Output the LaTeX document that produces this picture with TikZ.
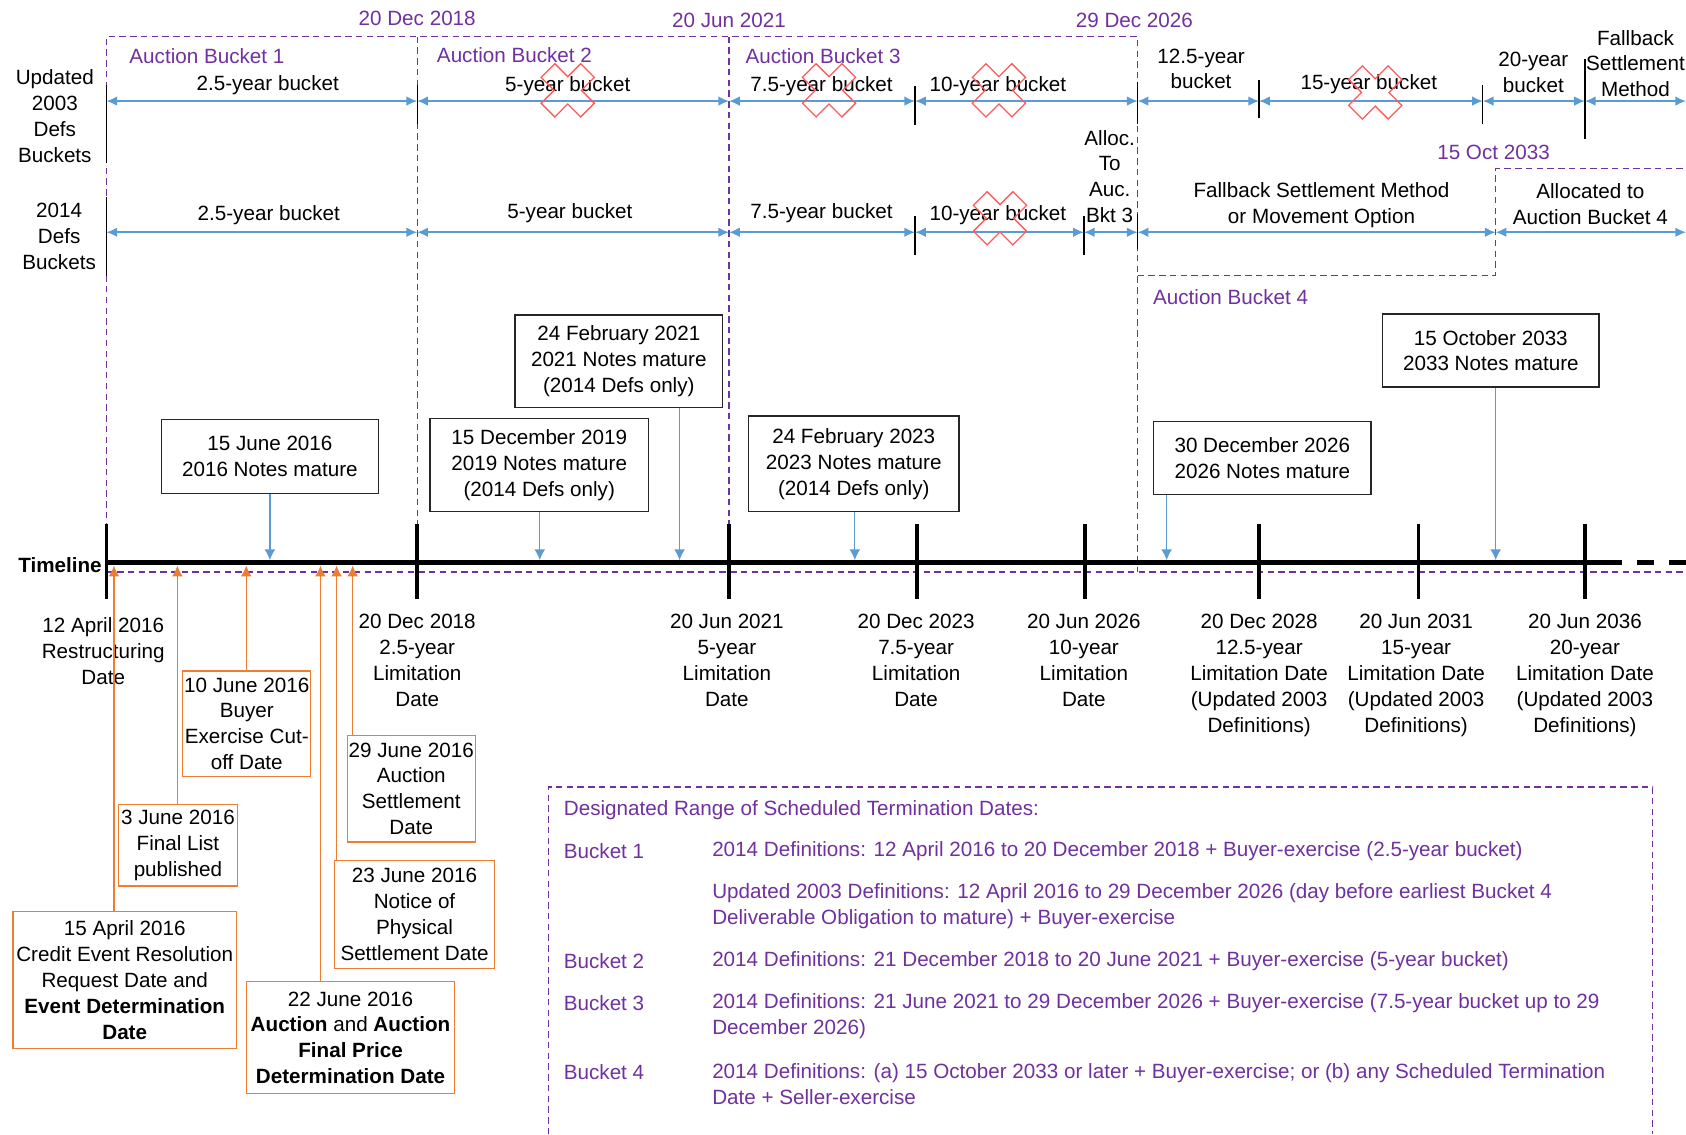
\documentclass[tikz,border=0pt]{standalone}
\usepackage{fontspec}
\setmainfont{Liberation Sans}
\usetikzlibrary{arrows.meta}
\definecolor{bktpurple}{RGB}{112,48,160}
\definecolor{notesblue}{RGB}{91,155,213}
\definecolor{evtorange}{RGB}{237,125,49}
\definecolor{crossred}{RGB}{255,90,90}
\tikzset{
  pics/nogo/.style={code={
    \draw[crossred, line width=0.6pt, rotate=45] (9,26) -- (9,9) -- (26,9) -- (26,-9) -- (9,-9) -- (9,-26) -- (-9,-26) -- (-9,-9) -- (-26,-9) -- (-26,9) -- (-9,9) -- (-9,26) -- cycle;}},
}

\begin{document}
\begin{tikzpicture}[x=0.5pt, y=-0.5pt, font=\fontsize{9.6}{12}\selectfont,
  txt/.style={align=center, inner sep=0pt},
  bktline/.style={draw=bktpurple, line width=0.6pt, dash pattern=on 3pt off 2pt},
  bkttext/.style={text=bktpurple, inner sep=0pt},
  bktspan/.style={draw=notesblue, line width=0.8pt, {Latex[length=5pt,width=4.5pt]}-{Latex[length=5pt,width=4.5pt]}},
  bar/.style={draw=black, line width=0.6pt},
  datetick/.style={draw=black, line width=1.6pt},
  notebox/.style={draw=black!85, line width=0.6pt, align=center, inner sep=0pt},
  notearrow/.style={draw=notesblue, line width=0.6pt, -{Latex[length=5pt,width=5pt]}},
  evtbox/.style={draw=evtorange, line width=0.6pt, align=center, inner sep=0pt},
  evtarrow/.style={draw=evtorange, line width=0.6pt, -{Latex[length=5pt,width=5pt]}}]
\useasboundingbox (0,0) rectangle (1568,1055);

% auction buckets
\draw[bktline] (99,532) |- (1058,34) -- (1058,532);
\draw[bktline] (388,34) -- (388,532);
\draw[bktline] (678,34) -- (678,532);
\draw[bktline] (1058,256) -| (1391,157) -- (1568,157);
\draw[bktline] (99,532) -- (1568,532);
\draw[bktline] (510,1055) |- (1537,732) -- (1537,1055);

\node[bkttext] (d18) at (388,17) {20 Dec 2018};
\node[bkttext] (d21) at (678,19) {20 Jun 2021};
\node[bkttext] (d26) at (1055,19) {29 Dec 2026};
\node[bkttext] (d33) at (1389,142) {15 Oct 2033};
\node[bkttext, anchor=west] (ab1) at (120,52) {Auction Bucket 1};
\node[bkttext, anchor=west] (ab2) at (406,51) {Auction Bucket 2};
\node[bkttext, anchor=west] (ab3) at (693,52) {Auction Bucket 3};
\node[bkttext, anchor=west] (ab4) at (1072,276) {Auction Bucket 4};

% bucket rows
\node[txt] (upd) at (51,108) {Updated\\2003\\Defs\\Buckets};
\node[txt] (new) at (55,220) {2014\\Defs\\Buckets};

\foreach \x/\a/\b in {99/79/152, 388/79/115, 851/80/116, 1058/76/115, 1171/74/110, 1379/79/115, 1474/55/129}
  \draw[bar] (\x,\a) -- (\x,\b);
\foreach \x/\a/\b in {99/183/257, 851/201/237, 1008/201/237, 1058/199/232}
  \draw[bar] (\x,\a) -- (\x,\b);

\foreach \n/\x in {a/99, b/388, c/678, d/851, e/1058, f/1171, g/1379, h/1474, i/1568}
  \coordinate (u\n) at (\x,94);
\foreach \n/\x in {a/99, b/388, c/678, d/851, e/1008, f/1058, g/1391, h/1568}
  \coordinate (w\n) at (\x,216);

\draw[bktspan] (ua) -- (ub);
\draw[bktspan] (ub) -- (uc);
\draw[bktspan] (uc) -- (ud);
\draw[bktspan] (ud) -- (ue);
\draw[bktspan] (ue) -- (uf);
\draw[bktspan] (uf) -- (ug);
\draw[bktspan] (ug) -- (uh);
\draw[bktspan] (uh) -- (ui);
\draw[bktspan] (wa) -- (wb);
\draw[bktspan] (wb) -- (wc);
\draw[bktspan] (wc) -- (wd);
\draw[bktspan] (wd) -- (we);
\draw[bktspan] (we) -- (wf);
\draw[bktspan] (wf) -- (wg);
\draw[bktspan] (wg) -- (wh);

\node[txt] (u25) at (249,79) {2.5-year bucket};
\node[txt] (u5) at (528,80) {5-year bucket};
\node[txt] (u75) at (764,80) {7.5-year bucket};
\node[txt] (u10) at (928,80) {10-year bucket};
\node[txt] (u125) at (1117,64) {12.5-year\\bucket};
\node[txt] (u15) at (1273,78) {15-year bucket};
\node[txt] (u20) at (1426,67) {20-year\\bucket};
\node[txt] (ufb) at (1521,59) {Fallback\\Settlement\\Method};
\node[txt] (w25) at (250,200) {2.5-year bucket};
\node[txt] (w5) at (530,198) {5-year bucket};
\node[txt] (w75) at (764,198) {7.5-year bucket};
\node[txt] (w10) at (928,200) {10-year bucket};
\node[txt] (w3) at (1032,164) {Alloc.\\To\\Auc.\\Bkt 3};
\node[txt] (wfb) at (1229,191) {Fallback Settlement Method\\or Movement Option};
\node[txt] (w4) at (1479,190) {Allocated to\\Auction Bucket 4};

\foreach \x/\y in {528/84, 771/84, 929/84, 1279/86, 930/203}
  \pic at (\x,\y) {nogo};

% timeline
\foreach \n/\x in {t16/99, t18/388, t21/678, t23/853, t26/1009, t28/1171, t31/1319, t36/1474} {
  \coordinate (\n) at (\x,523);
  \draw[datetick] (\x,487) -- (\x,557);
}
\draw[line width=2pt] (t16) -- (1492,523) coordinate (tlend);
\draw[line width=2pt, dash pattern=on 8pt off 7pt] (tlend) -- (1568,523);
\node[font=\fontsize{9.6}{12}\selectfont\bfseries, anchor=east, inner sep=0pt] (tl) at (95,526) {Timeline};

\node[txt, anchor=north] (l16) at (96,574) {12 April 2016\\Restructuring\\Date};
\node[txt, anchor=north] (l18) at (388,571) {20 Dec 2018\\2.5-year\\Limitation\\Date};
\node[txt, anchor=north] (l21) at (676,571) {20 Jun 2021\\5-year\\Limitation\\Date};
\node[txt, anchor=north] (l23) at (852,571) {20 Dec 2023\\7.5-year\\Limitation\\Date};
\node[txt, anchor=north] (l26) at (1008,571) {20 Jun 2026\\10-year\\Limitation\\Date};
\node[txt, anchor=north] (l28) at (1171,571) {20 Dec 2028\\12.5-year\\Limitation Date\\(Updated 2003\\Definitions)};
\node[txt, anchor=north] (l31) at (1317,571) {20 Jun 2031\\15-year\\Limitation Date\\(Updated 2003\\Definitions)};
\node[txt, anchor=north] (l36) at (1474,571) {20 Jun 2036\\20-year\\Limitation Date\\(Updated 2003\\Definitions)};

% notes maturing
\node[notebox, minimum width=101pt, minimum height=34.5pt] (n16) at (251,424.5) {15 June 2016\\2016 Notes mature};
\node[notebox, minimum width=96.5pt, minimum height=43pt] (n21) at (575.5,336) {24 February 2021\\2021 Notes mature\\(2014 Defs only)};
\node[notebox, minimum width=101.5pt, minimum height=43.5pt] (n19) at (501.5,432.5) {15 December 2019\\2019 Notes mature\\(2014 Defs only)};
\node[notebox, minimum width=98pt, minimum height=44.5pt] (n23) at (794,431.5) {24 February 2023\\2023 Notes mature\\(2014 Defs only)};
\node[notebox, minimum width=101pt, minimum height=34pt] (n26) at (1174,426) {30 December 2026\\2026 Notes mature};
\node[notebox, minimum width=100.5pt, minimum height=34pt] (n33) at (1386.5,326) {15 October 2033\\2033 Notes mature};

\foreach \n/\x in {m16/251, m19/502, m21/632, m23/795, m26/1085, m33/1391}
  \coordinate (\n) at (\x,521);
\draw[notearrow] (m16 |- n16.south) -- (m16);
\draw[notearrow] (m19 |- n19.south) -- (m19);
\draw[notearrow] (m21 |- n21.south) -- (m21);
\draw[notearrow] (m23 |- n23.south) -- (m23);
\draw[notearrow] (m26 |- n26.south) -- (m26);
\draw[notearrow] (m33 |- n33.south) -- (m33);

% auction events
\node[evtbox, minimum width=59.5pt, minimum height=49pt] (e10) at (229.5,673) {10 June 2016\\Buyer\\Exercise Cut-\\off Date};
\node[evtbox, minimum width=59.5pt, minimum height=49.5pt] (e29) at (382.5,733.5) {29 June 2016\\Auction\\Settlement\\Date};
\node[evtbox, minimum width=55.5pt, minimum height=38pt] (e3) at (165.5,786) {3 June 2016\\Final List\\published};
\node[evtbox, minimum width=74.5pt, minimum height=50.5pt] (e23) at (385.5,850.5) {23 June 2016\\Notice of\\Physical\\Settlement Date};
\node[evtbox, minimum width=104pt, minimum height=63.5pt] (e15) at (116,911.5) {15 April 2016\\Credit Event Resolution\\Request Date and\\\textbf{Event Determination}\\\textbf{Date}};
\node[evtbox, minimum width=97pt, minimum height=52pt] (e22) at (326,965) {22 June 2016\\\textbf{Auction} and \textbf{Auction}\\\textbf{Final Price}\\\textbf{Determination Date}};

\foreach \n/\x in {a15/106, a3/165, a10/229, a22/298, a23/313, a29/328}
  \coordinate (\n) at (\x,526);
\draw[evtarrow] (a15 |- e15.north) -- (a15);
\draw[evtarrow] (a3 |- e3.north) -- (a3);
\draw[evtarrow] (a10 |- e10.north) -- (a10);
\draw[evtarrow] (a22 |- e22.north) -- (a22);
\draw[evtarrow] (a23 |- e23.north) -- (a23);
\draw[evtarrow] (a29 |- e29.north) -- (a29);

% legend
\node[bkttext, anchor=west] (lgtitle) at (524,753) {Designated Range of Scheduled Termination Dates:};
\node[bkttext, anchor=west] (lgb1) at (524,792) {Bucket 1};
\node[bkttext, anchor=west] (lgb1a) at (662,792) {2014 Definitions: 12 April 2016 to 20 December 2018 + Buyer-exercise (2.5-year bucket)};
\node[bkttext, anchor=west, align=left] (lgb1b) at (662,843) {Updated 2003 Definitions: 12 April 2016 to 29 December 2026 (day before earliest Bucket 4\\Deliverable Obligation to mature) + Buyer-exercise};
\node[bkttext, anchor=west] (lgb2) at (524,894) {Bucket 2};
\node[bkttext, anchor=west] (lgb2a) at (662,894) {2014 Definitions: 21 December 2018 to 20 June 2021 + Buyer-exercise (5-year bucket)};
\node[bkttext, anchor=west] (lgb3) at (524,933) {Bucket 3};
\node[bkttext, anchor=west, align=left] (lgb3a) at (662,945) {2014 Definitions: 21 June 2021 to 29 December 2026 + Buyer-exercise (7.5-year bucket up to 29\\December 2026)};
\node[bkttext, anchor=west] (lgb4) at (524,997) {Bucket 4};
\node[bkttext, anchor=west, align=left] (lgb4a) at (662,1008) {2014 Definitions: (a) 15 October 2033 or later + Buyer-exercise; or (b) any Scheduled Termination\\Date + Seller-exercise};
\end{tikzpicture}
\end{document}
